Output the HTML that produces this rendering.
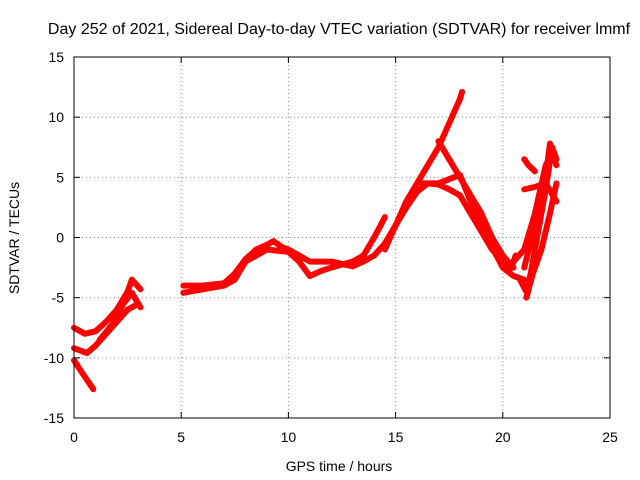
<!DOCTYPE html>
<html><head><meta charset="utf-8"><style>
body{margin:0;background:#fff}
svg{display:block;font-family:"Liberation Sans",sans-serif}
</style></head><body>
<svg id="chart" width="640" height="480">
<rect width="640" height="480" fill="#fff"/>
<text x="339" y="34" font-size="16" text-anchor="middle">Day 252 of 2021, Sidereal Day-to-day VTEC variation (SDTVAR) for receiver lmmf</text>
<g id="grid"></g><g id="series"></g><g id="axes"></g>
<text x="339" y="471" font-size="14" text-anchor="middle">GPS time / hours</text>
<text transform="translate(19,238) rotate(-90)" font-size="14" text-anchor="middle">SDTVAR / TECUs</text>
</svg>
<script>
const xTicks=[0,5,10,15,20,25];
const yTicks=[-15,-10,-5,0,5,10,15];
const seg1=[[0,-10.2],[0.4,-11.3],[0.9,-12.6]];
const seg2=[[0,-7.5],[0.5,-8],[1,-7.8],[1.5,-7],[2,-6],[2.5,-4.5],[2.7,-3.5],[3.1,-4.3]];
const seg3=[[0,-9.2],[0.6,-9.6],[1,-9],[1.5,-8],[2,-7],[2.5,-6],[3,-5.5]];
const seg4=[[1.2,-8.5],[1.8,-7.2],[2.3,-5.5],[2.7,-4.6],[3.1,-5.8]];
const seg5=[[5.1,-4],[6,-4],[7,-3.8],[7.5,-3],[8,-1.8],[8.5,-1],[9,-0.6],[9.3,-0.3],[9.7,-0.8],[10,-1],[10.5,-1.5],[11,-2],[12,-2],[12.5,-2.2],[13,-2.4],[13.5,-2],[14,-1.5],[14.5,-0.5],[15,1],[15.5,2.5],[16,3.8],[16.5,4.5],[17,4.4],[17.5,4],[18,3.5],[18.5,2],[19,0.5],[19.5,-1],[20,-2],[20.4,-2.5],[20.6,-1.5]];
const seg6=[[5.1,-4.6],[6,-4.3],[7,-4],[7.5,-3.5],[8,-2],[9,-1],[10,-1.2],[10.5,-2],[11,-3.2],[11.5,-2.8],[12,-2.5],[13,-2],[13.5,-1.5],[14,0],[14.3,1],[14.5,1.7]];
const seg7=[[14.5,-1],[15,1],[15.5,3],[16,4.5],[16.5,6],[17,7.5],[17.5,9.5],[18,11.5],[18.1,12.1]];
const seg8=[[17,8],[17.5,6.5],[18,5],[18.5,3.5],[19,2],[19.5,0],[20,-1.5],[20.5,-2.5]];
const seg9=[[16.2,4.5],[17,4.5],[18,5.2],[18.5,3],[19.5,-0.8],[20,-2.5],[20.5,-3.2],[21,-3.5]];
const seg10=[[20.8,-3.5],[21.1,-4.5],[21.3,-3],[21.6,0],[22,4],[22.3,7.5],[22.5,6.5]];
const seg11=[[21,-2.5],[21.5,1],[22,5],[22.2,7.8],[22.5,6]];
const seg12=[[20.5,-2],[21,-1],[21.5,2],[22,6],[22.3,7]];
const seg13=[[21,6.5],[21.2,6],[21.5,5.5]];
const seg14=[[21,4],[21.5,4.2],[22,4.5],[22.5,3]];
const seg15=[[21.1,-5],[21.4,-3],[21.8,-1],[22.2,2],[22.5,4.5]];
const allSeries=[seg1,seg2,seg3,seg4,seg5,seg6,seg7,seg8,seg9,seg10,seg11,seg12,seg13,seg14,seg15];
const X0=74,X1=610,Y0=418,Y1=57;
function sx(v){return X0+(v-0)/(25-0)*(X1-X0);}
function sy(v){return Y0-(v+15)/30*(Y0-Y1);}
const NS="http://www.w3.org/2000/svg";
function mk(t,a,p){const e=document.createElementNS(NS,t);for(const k in a)e.setAttribute(k,a[k]);p.appendChild(e);return e;}
const grid=document.getElementById('grid'),axes=document.getElementById('axes'),ser=document.getElementById('series');
xTicks.forEach(t=>{const x=sx(t);
 if(t>0&&t<25){const g=mk('line',{x1:x,x2:x,y1:Y1,y2:Y0,stroke:'#888','stroke-dasharray':'1,3'},grid);
 
 }
 mk('line',{x1:x,x2:x,y1:Y0,y2:Y0-6,stroke:'#000'},axes);
 mk('line',{x1:x,x2:x,y1:Y1,y2:Y1+6,stroke:'#000'},axes);
 const l=mk('text',{x:x,y:Y0+24,'font-size':14,'text-anchor':'middle'},axes);l.textContent=t;
 
 });
yTicks.forEach(t=>{const y=sy(t);
 if(t>-15&&t<15){const g=mk('line',{x1:X0,x2:X1,y1:y,y2:y,stroke:'#888','stroke-dasharray':'1,3'},grid);
 
 }
 mk('line',{x1:X0,x2:X0+6,y1:y,y2:y,stroke:'#000'},axes);
 mk('line',{x1:X1,x2:X1-6,y1:y,y2:y,stroke:'#000'},axes);
 const l=mk('text',{x:X0-10,y:y+5,'font-size':14,'text-anchor':'end'},axes);l.textContent=t;
 
 });
const b=mk('rect',{x:X0,y:Y1,width:X1-X0,height:Y0-Y1,fill:'none',stroke:'#000'},axes);


allSeries.forEach((s,i)=>{
 const p=mk('polyline',{points:s.map(d=>sx(d[0])+','+sy(d[1])).join(' '),fill:'none',stroke:'#f00','stroke-width':6,'stroke-linejoin':'round','stroke-linecap':'round'},ser);
 
 
});
</script>
</body></html>
